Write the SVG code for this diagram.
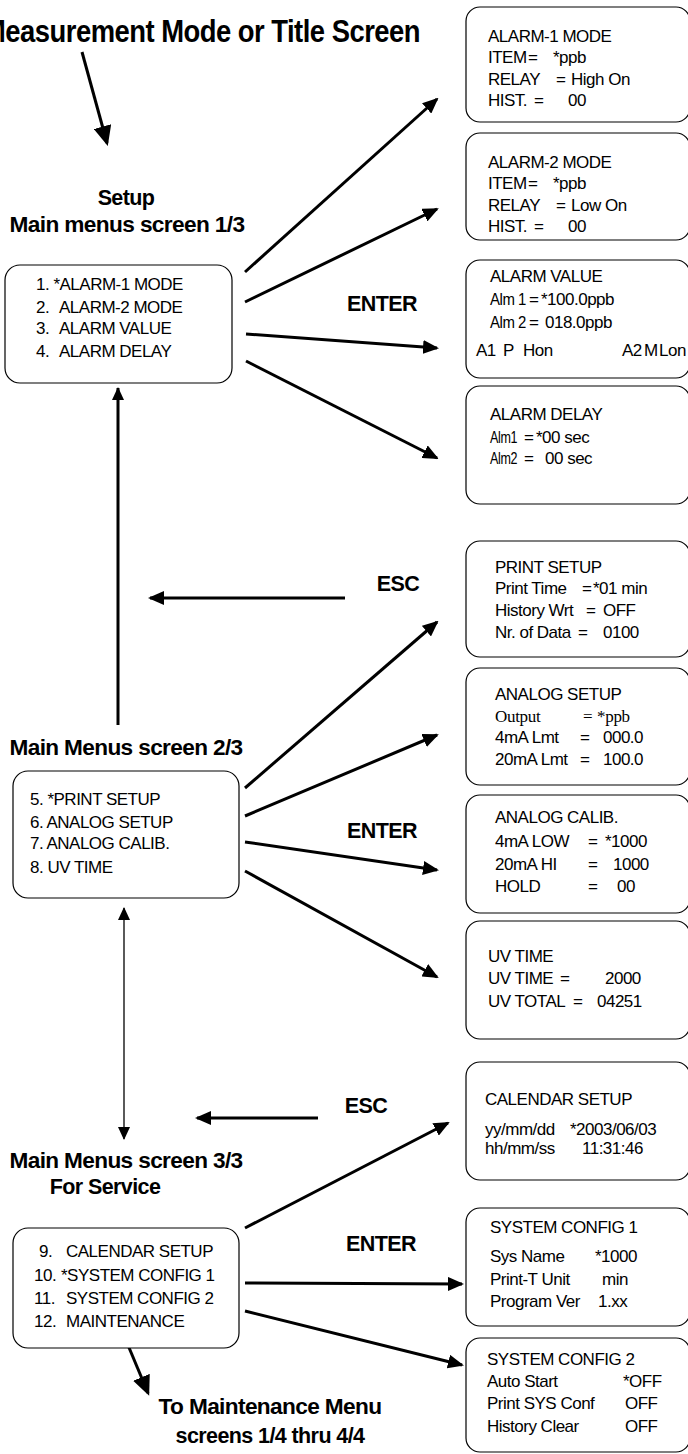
<svg xmlns="http://www.w3.org/2000/svg" width="688" height="1454" viewBox="0 0 688 1454">
<style>
.box{fill:#fff;stroke:#000;stroke-width:1.2}
.t{font-family:"Liberation Sans",Arial,sans-serif;font-size:17px;fill:#000;letter-spacing:-0.5px}
.h{font-family:"Liberation Sans",Arial,sans-serif;font-size:21.5px;font-weight:bold;fill:#000;letter-spacing:-0.6px}
.ser{font-family:"Liberation Serif","Times New Roman",serif;font-size:17px;letter-spacing:-0.3px}
.c{fill:none;stroke:#000;stroke-width:3}
.thin{fill:none;stroke:#000;stroke-width:1.3}
</style>
<defs>
<marker id="ah" markerUnits="userSpaceOnUse" markerWidth="16" markerHeight="14" refX="14" refY="7" orient="auto"><path d="M0,0 L16,7 L0,14 z" fill="#000"/></marker>
<marker id="ahb" markerUnits="userSpaceOnUse" markerWidth="20" markerHeight="18" refX="17" refY="9" orient="auto"><path d="M0,0 L20,9 L0,18 z" fill="#000"/></marker>
<marker id="ahs" markerUnits="userSpaceOnUse" markerWidth="13" markerHeight="12" refX="12" refY="6" orient="auto"><path d="M0,0 L13,6 L0,12 z" fill="#000"/></marker>
<marker id="ahs0" markerUnits="userSpaceOnUse" markerWidth="13" markerHeight="12" refX="1" refY="6" orient="auto"><path d="M13,0 L0,6 L13,12 z" fill="#000"/></marker>
</defs>

<g id="title">
<text class="h" x="-17" y="42" textLength="437" lengthAdjust="spacingAndGlyphs" style="font-size:32px">Measurement Mode or Title Screen</text>
</g>

<g id="connectors">
<line class="c" x1="82" y1="52" x2="107" y2="143" marker-end="url(#ahb)"/>
<line class="c" x1="245" y1="272" x2="437" y2="99" marker-end="url(#ah)"/>
<line class="c" x1="245" y1="302" x2="437" y2="209" marker-end="url(#ah)"/>
<line class="c" x1="246" y1="334" x2="437" y2="348" marker-end="url(#ah)"/>
<line class="c" x1="246" y1="361" x2="437" y2="458" marker-end="url(#ah)"/>
<line class="c" x1="118" y1="725" x2="118" y2="388" marker-end="url(#ahs)"/>
<line class="c" x1="345" y1="598" x2="150" y2="598" marker-end="url(#ah)"/>
<line class="c" x1="245" y1="788" x2="437" y2="622" marker-end="url(#ah)"/>
<line class="c" x1="245" y1="816" x2="437" y2="735" marker-end="url(#ah)"/>
<line class="c" x1="245" y1="842" x2="437" y2="870" marker-end="url(#ah)"/>
<line class="c" x1="245" y1="871" x2="437" y2="977" marker-end="url(#ah)"/>
<line class="thin" x1="124" y1="908" x2="124" y2="1139" marker-start="url(#ahs0)" marker-end="url(#ahs)"/>
<line class="c" x1="318" y1="1118" x2="197" y2="1118" marker-end="url(#ah)"/>
<line class="c" x1="245" y1="1228" x2="448" y2="1123" marker-end="url(#ah)"/>
<line class="c" x1="245" y1="1283" x2="462" y2="1284" marker-end="url(#ah)"/>
<line class="c" x1="245" y1="1311" x2="462" y2="1365" marker-end="url(#ah)"/>
<line class="c" x1="125" y1="1338" x2="148" y2="1393" marker-end="url(#ahb)"/>
</g>

<g id="labels">
<text class="h" x="398" y="591" text-anchor="middle">ESC</text>
<text class="h" x="382" y="311" text-anchor="middle">ENTER</text>
<text class="h" x="382" y="838" text-anchor="middle">ENTER</text>
<text class="h" x="366" y="1113" text-anchor="middle">ESC</text>
<text class="h" x="381" y="1251" text-anchor="middle">ENTER</text>
</g>

<g id="setup-label">
<text class="h" x="126" y="205" text-anchor="middle">Setup</text>
<text class="h" x="127" y="232" text-anchor="middle" textLength="235" lengthAdjust="spacingAndGlyphs">Main menus screen 1/3</text>
</g>

<g id="main1">
<rect class="box" x="5" y="265" width="227" height="118" rx="15"/>
<text class="t" x="36" y="290">1. *ALARM-1 MODE</text>
<text class="t" y="313"><tspan x="36">2.</tspan><tspan x="59">ALARM-2 MODE</tspan></text>
<text class="t" y="334"><tspan x="36">3.</tspan><tspan x="59">ALARM VALUE</tspan></text>
<text class="t" y="357"><tspan x="36">4.</tspan><tspan x="59">ALARM DELAY</tspan></text>
</g>

<g id="main2-label">
<text class="h" x="126" y="755" text-anchor="middle" textLength="233" lengthAdjust="spacingAndGlyphs">Main Menus screen 2/3</text>
</g>

<g id="main2">
<rect class="box" x="13" y="771" width="226" height="127" rx="15"/>
<text class="t" x="30" y="805">5. *PRINT SETUP</text>
<text class="t" x="30" y="828">6. ANALOG SETUP</text>
<text class="t" x="30" y="849">7. ANALOG CALIB.</text>
<text class="t" x="30" y="873">8. UV TIME</text>
</g>

<g id="main3-label">
<text class="h" x="126" y="1168" text-anchor="middle" textLength="233" lengthAdjust="spacingAndGlyphs">Main Menus screen 3/3</text>
<text class="h" x="105" y="1194" text-anchor="middle">For Service</text>
</g>

<g id="main3">
<rect class="box" x="13" y="1228" width="226" height="120" rx="15"/>
<text class="t" y="1257"><tspan x="39">9.</tspan><tspan x="66">CALENDAR SETUP</tspan></text>
<text class="t" y="1281"><tspan x="34">10.</tspan><tspan x="61">*SYSTEM CONFIG 1</tspan></text>
<text class="t" y="1304"><tspan x="34">11.</tspan><tspan x="66">SYSTEM CONFIG 2</tspan></text>
<text class="t" y="1327"><tspan x="34">12.</tspan><tspan x="66">MAINTENANCE</tspan></text>
</g>

<g id="maint-label">
<text class="h" x="270" y="1414" text-anchor="middle" textLength="223" lengthAdjust="spacingAndGlyphs">To Maintenance Menu</text>
<text class="h" x="270" y="1443" text-anchor="middle">screens 1/4 thru 4/4</text>
</g>

<g id="alarm1">
<rect class="box" x="466" y="7" width="224" height="115" rx="14"/>
<text class="t" x="488" y="42">ALARM-1 MODE</text>
<text class="t" y="63"><tspan x="488">ITEM</tspan><tspan x="528">=</tspan><tspan x="553">*ppb</tspan></text>
<text class="t" y="85"><tspan x="488">RELAY</tspan><tspan x="556">=</tspan><tspan x="571">High On</tspan></text>
<text class="t" y="106"><tspan x="488">HIST.</tspan><tspan x="534">=</tspan><tspan x="568">00</tspan></text>
</g>

<g id="alarm2">
<rect class="box" x="466" y="133" width="224" height="107" rx="14"/>
<text class="t" x="488" y="168">ALARM-2 MODE</text>
<text class="t" y="189"><tspan x="488">ITEM</tspan><tspan x="528">=</tspan><tspan x="553">*ppb</tspan></text>
<text class="t" y="211"><tspan x="488">RELAY</tspan><tspan x="556">=</tspan><tspan x="571">Low On</tspan></text>
<text class="t" y="232"><tspan x="488">HIST.</tspan><tspan x="534">=</tspan><tspan x="568">00</tspan></text>
</g>

<g id="alarmvalue">
<rect class="box" x="466" y="260" width="224" height="118" rx="14"/>
<text class="t" x="490" y="282">ALARM VALUE</text>
<text class="t" x="490" y="305" textLength="36" lengthAdjust="spacingAndGlyphs">Alm 1</text>
<text class="t" y="305"><tspan x="529">=</tspan><tspan x="541">*100.0ppb</tspan></text>
<text class="t" x="490" y="328" textLength="36" lengthAdjust="spacingAndGlyphs">Alm 2</text>
<text class="t" y="328"><tspan x="529">=</tspan><tspan x="545">018.0ppb</tspan></text>
<text class="t" y="356"><tspan x="476">A1</tspan><tspan x="503">P</tspan><tspan x="523">Hon</tspan><tspan x="622">A2</tspan><tspan x="644">M</tspan><tspan x="659">Lon</tspan></text>
</g>

<g id="alarmdelay">
<rect class="box" x="466" y="386" width="224" height="118" rx="14"/>
<text class="t" x="490" y="420">ALARM DELAY</text>
<text class="t" x="490" y="443" textLength="27" lengthAdjust="spacingAndGlyphs">Alm1</text>
<text class="t" y="443"><tspan x="524">=</tspan><tspan x="536">*00 sec</tspan></text>
<text class="t" x="490" y="464" textLength="27" lengthAdjust="spacingAndGlyphs">Alm2</text>
<text class="t" y="464"><tspan x="524">=</tspan><tspan x="545">00 sec</tspan></text>
</g>

<g id="printsetup">
<rect class="box" x="466" y="541" width="224" height="116" rx="14"/>
<text class="t" x="495" y="573">PRINT SETUP</text>
<text class="t" y="594"><tspan x="495">Print Time</tspan><tspan x="582">=</tspan><tspan x="593">*01 min</tspan></text>
<text class="t" y="616"><tspan x="495">History Wrt</tspan><tspan x="586">=</tspan><tspan x="603">OFF</tspan></text>
<text class="t" y="638"><tspan x="495">Nr. of Data</tspan><tspan x="578">=</tspan><tspan x="603">0100</tspan></text>
</g>

<g id="analogsetup">
<rect class="box" x="466" y="668" width="224" height="117" rx="14"/>
<text class="t" x="495" y="700">ANALOG SETUP</text>
<text class="t ser" y="722"><tspan x="495">Output</tspan><tspan x="583">=</tspan><tspan x="597">*ppb</tspan></text>
<text class="t" y="743"><tspan x="495">4mA Lmt</tspan><tspan x="580">=</tspan><tspan x="603">000.0</tspan></text>
<text class="t" y="765"><tspan x="495">20mA Lmt</tspan><tspan x="580">=</tspan><tspan x="603">100.0</tspan></text>
</g>

<g id="analogcalib">
<rect class="box" x="466" y="795" width="224" height="118" rx="14"/>
<text class="t" x="495" y="823">ANALOG CALIB.</text>
<text class="t" y="847"><tspan x="495">4mA LOW</tspan><tspan x="588">=</tspan><tspan x="605">*1000</tspan></text>
<text class="t" y="870"><tspan x="495">20mA HI</tspan><tspan x="588">=</tspan><tspan x="613">1000</tspan></text>
<text class="t" y="892"><tspan x="495">HOLD</tspan><tspan x="588">=</tspan><tspan x="617">00</tspan></text>
</g>

<g id="uvtime">
<rect class="box" x="466" y="921" width="224" height="118" rx="14"/>
<text class="t" x="488" y="962">UV TIME</text>
<text class="t" y="984"><tspan x="488">UV TIME</tspan><tspan x="560">=</tspan><tspan x="605">2000</tspan></text>
<text class="t" y="1007"><tspan x="488">UV TOTAL</tspan><tspan x="573">=</tspan><tspan x="597">04251</tspan></text>
</g>

<g id="calendar">
<rect class="box" x="466" y="1062" width="224" height="118" rx="14"/>
<text class="t" x="485" y="1105">CALENDAR SETUP</text>
<text class="t" y="1135"><tspan x="485">yy/mm/dd</tspan><tspan x="570">*2003/06/03</tspan></text>
<text class="t" y="1154"><tspan x="485">hh/mm/ss</tspan><tspan x="582">11:31:46</tspan></text>
</g>

<g id="sysconfig1">
<rect class="box" x="466" y="1208" width="224" height="118" rx="14"/>
<text class="t" x="490" y="1233">SYSTEM CONFIG 1</text>
<text class="t" y="1262"><tspan x="490">Sys Name</tspan><tspan x="595">*1000</tspan></text>
<text class="t" y="1285"><tspan x="490">Print-T Unit</tspan><tspan x="602">min</tspan></text>
<text class="t" y="1307"><tspan x="490">Program Ver</tspan><tspan x="598">1.xx</tspan></text>
</g>

<g id="sysconfig2">
<rect class="box" x="466" y="1338" width="224" height="114" rx="14"/>
<text class="t" x="487" y="1365">SYSTEM CONFIG 2</text>
<text class="t" y="1387"><tspan x="487">Auto Start</tspan><tspan x="623">*OFF</tspan></text>
<text class="t" y="1409"><tspan x="487">Print SYS Conf</tspan><tspan x="625">OFF</tspan></text>
<text class="t" y="1432"><tspan x="487">History Clear</tspan><tspan x="625">OFF</tspan></text>
</g>
</svg>
